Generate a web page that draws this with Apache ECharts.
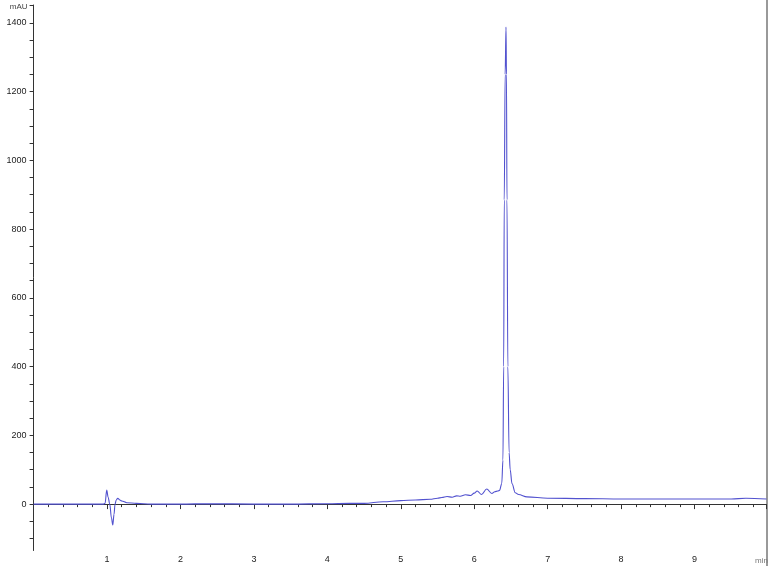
<!DOCTYPE html>
<html>
<head>
<meta charset="utf-8">
<script src="https://cdn.jsdelivr.net/npm/echarts@6/dist/echarts.min.js"></script>
<style>
  html, body { margin: 0; padding: 0; background: #fff; }
  #chart { width: 768px; height: 566px; }
</style>
</head>
<body>
<div id="chart"></div>
<script>
// retention time (min) and detector signal (mAU)
const timeMin = [0, 0.5, 0.95, 0.973, 0.996, 1.015, 1.037, 1.06, 1.078, 1.095, 1.109, 1.125, 1.146, 1.175, 1.2, 1.27, 1.4, 1.6, 2.0, 2.4, 3.0, 3.5, 4.0, 4.3, 4.5, 4.76, 5.0, 5.2, 5.4, 5.5, 5.56, 5.63, 5.7, 5.76, 5.81, 5.88, 5.95, 6.0, 6.04, 6.1, 6.17, 6.24, 6.28, 6.32, 6.345, 6.375, 6.391, 6.401, 6.409, 6.421, 6.433, 6.439, 6.446, 6.458, 6.475, 6.49, 6.514, 6.559, 6.604, 6.718, 7.0, 7.5, 8.0, 8.5, 9.0, 9.5, 9.7, 9.98]
const signal = [0, 0, 0, 2, 41, 20, 0, -40, -61, -30, 0, 12, 17, 12, 9, 4, 2, 0, 0, 1, 0, 0, 1, 2, 2, 7, 10, 12, 14, 17, 19, 22, 20, 24, 23, 27, 25, 32, 38, 28, 44, 31, 36, 38, 40, 60, 128, 400, 885, 1250, 1388, 1250, 885, 400, 150, 100, 60, 33, 28, 21, 17, 16, 15, 15, 15, 15, 17, 15]

const yLabels = [0, 200, 400, 600, 800, 1000, 1200, 1400]
const yTicks = [-100, -50, 0, 50, 100, 150, 200, 250, 300, 350, 400, 450, 500, 550, 600, 650, 700, 750, 800, 850, 900, 950, 1000, 1050, 1100, 1150, 1200, 1250, 1300, 1350, 1400, 1450]
const xLabels = [1, 2, 3, 4, 5, 6, 7, 8, 9]

const chart = echarts.init(document.getElementById('chart'))
const axisColor = '#333'
const font = { fontFamily: 'Liberation Sans', fontSize: 9, color: '#222' }

chart.setOption({
  animation: false,
  grid: { left: 33.6, right: 1.5, top: 5, bottom: 15.5 },
  xAxis: {
    type: 'value', min: 0, max: 9.98, interval: 1,
    splitLine: { show: false },
    axisLine: { lineStyle: { color: axisColor } },
    axisTick: { length: 5, lineStyle: { color: axisColor } },
    minorTick: { show: true, splitNumber: 5, length: 3, lineStyle: { color: axisColor } },
    axisLabel: { ...font, margin: 5, customValues: xLabels }
  },
  yAxis: {
    type: 'value', min: -135, max: 1452,
    name: 'mAU', nameLocation: 'end', nameGap: -2,
    nameTextStyle: { ...font, fontSize: 8, color: '#444', align: 'right', verticalAlign: 'middle', padding: [0, 6, 0, 0] },
    splitLine: { show: false },
    axisLine: { show: true, lineStyle: { color: axisColor } },
    axisTick: { length: 4, customValues: yTicks, lineStyle: { color: axisColor } },
    axisLabel: { ...font, margin: 7, customValues: yLabels, formatter: v => String(v) }
  },
  graphic: [{
    // window frame on the right edge
    type: 'line', shape: { x1: 767, y1: 0, x2: 767, y2: 566 },
    style: { stroke: '#999', lineWidth: 2 }
  }, {
    type: 'text', right: 0, top: 557,
    style: { text: 'min', font: '8px "Liberation Sans"', fill: '#777' }
  }],
  series: [{
    type: 'line',
    data: timeMin.map((t, i) => [t, signal[i]]),
    showSymbol: false,
    smooth: 0.35,
    smoothMonotone: 'x',
    lineStyle: { color: '#5252cf', width: 1.1 }
  }]
})
</script>
</body>
</html>
